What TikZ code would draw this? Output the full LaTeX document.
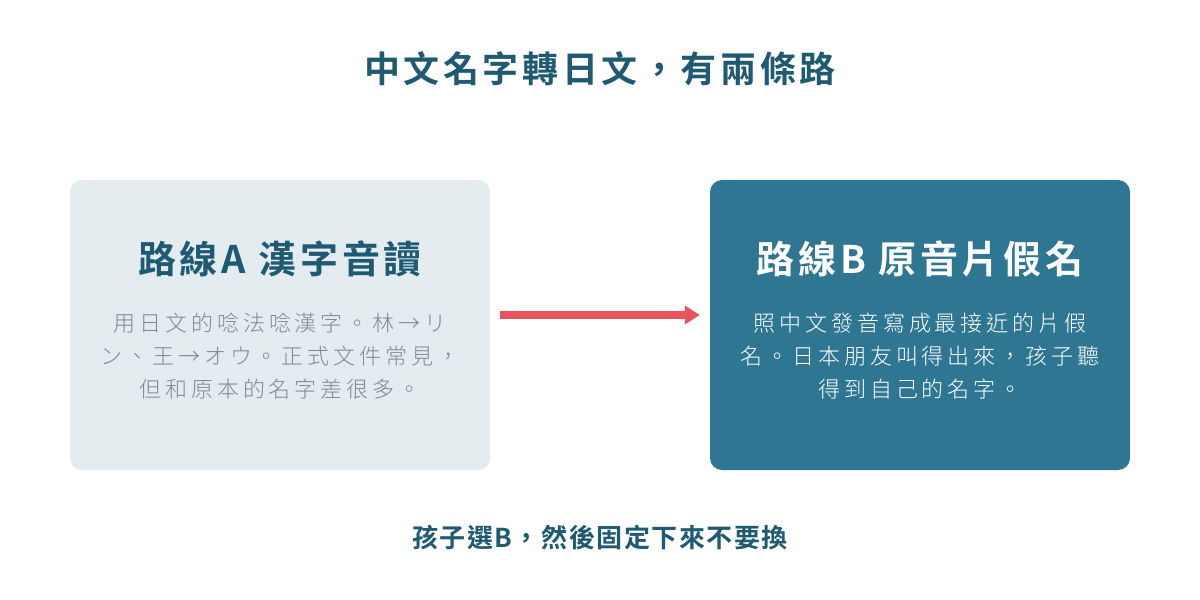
\documentclass[tikz,border=0pt]{standalone}
\usepackage{fontspec}
\usetikzlibrary{arrows.meta}
\newfontfamily\cjkbold{Noto Sans CJK TC Bold}[LetterSpace=10]
\newfontfamily\cjkcap{Noto Sans CJK TC Bold}[LetterSpace=6]
\newfontfamily\cjklight{Noto Sans CJK TC Light}[LetterSpace=18]
\definecolor{titleblue}{HTML}{1F5A73}
\definecolor{paleA}{HTML}{E4ECF0}
\definecolor{tealB}{HTML}{2E7692}
\definecolor{grayA}{HTML}{7D8B92}
\definecolor{arrowred}{HTML}{E8545C}
\tikzset{
  card/.style={rounded corners=12pt, minimum width=420pt, minimum height=290pt, inner sep=0pt, draw=none},
  titletext/.style={font=\cjkbold\fontsize{36}{40}\selectfont, inner sep=0pt},
  headtext/.style={font=\cjkbold\fontsize{38}{42}\selectfont, inner sep=0pt},
  bodytext/.style={font=\cjklight\fontsize{22}{33}\selectfont, align=center, inner sep=0pt},
  flow/.style={line width=8pt, arrowred, -{Triangle[length=15pt,width=18pt]}, shorten <=10pt, shorten >=10pt}
}
\begin{document}
\begin{tikzpicture}[x=1pt,y=-1pt]
\useasboundingbox (0,0) rectangle (1200,600);
\fill[white] (0,0) rectangle (1200,600);
\node[titletext, text=titleblue] (title) at (600,69) {中文名字轉日文，有兩條路};
\node[card, fill=paleA] (boxA) at (280,325) {};
\node[card, fill=tealB] (boxB) at (920,325) {};
\node[headtext, text=titleblue] (headA) at (280,259) {路線A 漢字音讀};
\node[headtext, text=white] (headB) at (920,259) {路線B 原音片假名};
\node[bodytext, text=grayA] (bodyA) at (280,356) {用日文的唸法唸漢字。林→リ\\ン、王→オウ。正式文件常見，\\但和原本的名字差很多。};
\node[bodytext, text=white] (bodyB) at (920,356) {照中文發音寫成最接近的片假\\名。日本朋友叫得出來，孩子聽\\得到自己的名字。};
\draw[flow] (boxA.east |- 0,315) coordinate (aS) -- (boxB.west |- 0,315);
\node[font=\cjkcap\fontsize{26}{30}\selectfont, text=titleblue, inner sep=0pt] (caption) at (600,538) {孩子選B，然後固定下來不要換};
\end{tikzpicture}
\end{document}
